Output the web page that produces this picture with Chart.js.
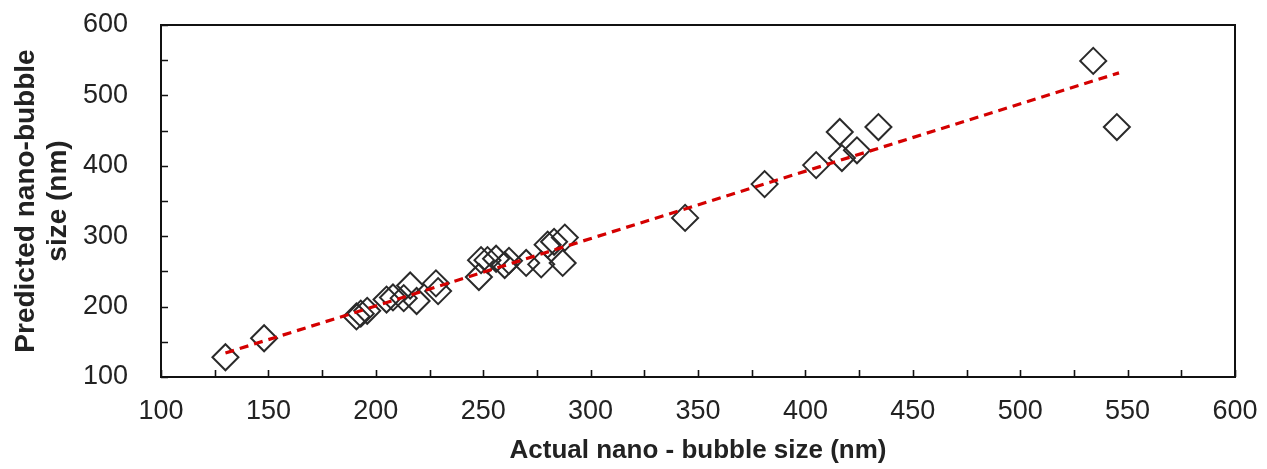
<!DOCTYPE html>
<html>
<head>
<meta charset="utf-8">
<script src="https://cdn.jsdelivr.net/npm/chart.js@4/dist/chart.umd.min.js"></script>
<style>
  html, body { margin: 0; padding: 0; background: #ffffff; }
  #wrap { width: 1267px; height: 469px; position: relative; }
</style>
</head>
<body>
<div id="wrap"><canvas id="c" width="1267" height="469"></canvas></div>
<script>
// Actual vs predicted nano-bubble size (nm)
const actualSize = [130, 148, 191, 193, 196, 205, 208, 213, 216, 219, 228, 229,
  249, 248, 252, 256, 260, 262, 270, 277, 280, 283, 288, 287,
  344, 381, 405, 416, 417, 424, 434, 534, 545];
const predictedSize = [128, 155, 186, 190, 194, 210, 213, 212, 230, 208, 233, 222,
  266, 242, 266, 268, 259, 265, 262, 260, 288, 292, 298, 262,
  326, 374, 401, 448, 411, 422, 455, 549, 455];
// trend line end points
const trendX = [130, 546];
const trendY = [134, 532];
// axes
const xRange = [100, 600];
const yRange = [100, 600];
const xLabelStep = 50, xMinorStep = 25;
const yLabelStep = 100, yMinorStep = 50;
const xTitle = 'Actual nano - bubble size (nm)';
const yTitle = ['Predicted nano-bubble', 'size (nm)'];

const scatterPts = actualSize.map((x, i) => ({ x: x, y: predictedSize[i] }));
const trendPts = trendX.map((x, i) => ({ x: x, y: trendY[i] }));

const frameTicks = {
  id: 'frameTicks',
  afterDatasetsDraw(chart) {
    const ctx = chart.ctx, a = chart.chartArea;
    const xs = chart.scales.x, ys = chart.scales.y;
    ctx.save();
    ctx.strokeStyle = '#111';
    ctx.lineWidth = 1.6;
    ctx.beginPath();
    for (let v = xRange[0]; v <= xRange[1]; v += xMinorStep) {
      const px = Math.round(xs.getPixelForValue(v)) + 0.5;
      ctx.moveTo(px, a.bottom); ctx.lineTo(px, a.bottom - 7);
    }
    for (let v = yRange[0]; v <= yRange[1]; v += yMinorStep) {
      const py = Math.round(ys.getPixelForValue(v)) + 0.5;
      ctx.moveTo(a.left, py); ctx.lineTo(a.left + 7, py);
    }
    ctx.stroke();
    ctx.lineWidth = 2;
    ctx.strokeRect(a.left, a.top, a.right - a.left, a.bottom - a.top);
    ctx.restore();
  }
};

new Chart(document.getElementById('c'), {
  data: {
    datasets: [
      {
        type: 'line',
        data: trendPts,
        borderColor: '#d40000',
        borderWidth: 3.2,
        borderDash: [9, 6],
        pointRadius: 0,
        fill: false,
        order: 0
      },
      {
        type: 'scatter',
        data: scatterPts,
        pointStyle: 'rectRot',
        pointRadius: 13,
        pointBorderWidth: 2,
        borderColor: '#2a2a2a',
        backgroundColor: 'rgba(0,0,0,0)',
        order: 1
      }
    ]
  },
  plugins: [frameTicks],
  options: {
    responsive: false,
    animation: false,
    layout: { padding: { left: 0, right: 32, top: 25, bottom: 0 } },
    plugins: { legend: { display: false }, tooltip: { enabled: false } },
    scales: {
      x: {
        type: 'linear',
        min: xRange[0], max: xRange[1],
        grid: { display: false, drawTicks: false },
        border: { display: false },
        ticks: {
          stepSize: xLabelStep,
          padding: 18,
          color: '#222',
          font: { family: 'Liberation Sans', size: 27 },
          maxRotation: 0
        },
        title: {
          display: true,
          text: xTitle,
          color: '#222',
          font: { family: 'Liberation Sans', size: 26, weight: 'bold' },
          padding: { top: 0, bottom: 3 }
        },
        afterFit(s) { s.height = 92; s.paddingLeft = 0; s.paddingRight = 0; }
      },
      y: {
        type: 'linear',
        min: yRange[0], max: yRange[1],
        grid: { display: false, drawTicks: false },
        border: { display: false },
        ticks: {
          stepSize: yLabelStep,
          padding: 33,
          color: '#222',
          font: { family: 'Liberation Sans', size: 27 }
        },
        title: {
          display: true,
          text: yTitle,
          color: '#222',
          font: { family: 'Liberation Sans', size: 28, weight: 'bold', lineHeight: 1.15 },
          padding: { top: 10, bottom: 0 }
        },
        afterFit(s) { s.width = 161; s.paddingTop = 0; s.paddingBottom = 0; }
      }
    }
  }
});
</script>
</body>
</html>
